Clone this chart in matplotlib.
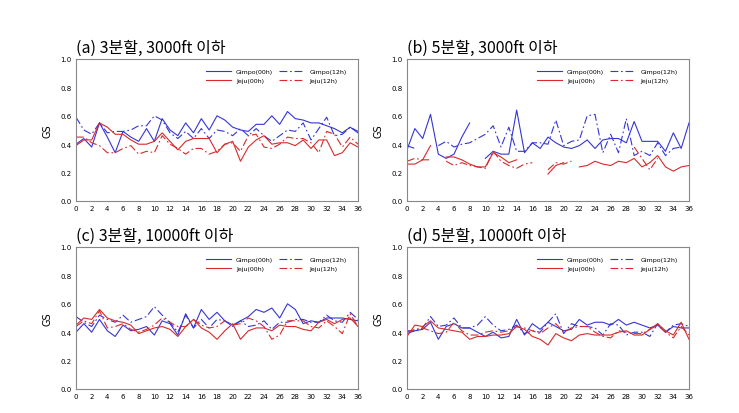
import numpy as np
import matplotlib
matplotlib.use("Agg")
import matplotlib.pyplot as plt

plt.rcParams['font.family'] = ['DejaVu Sans']
nan = np.nan

hours = list(range(0, 37))
labels = ["Gimpo(00h)", "Gimpo(12h)", "Jeju(00h)", "Jeju(12h)"]
titles = ["(a) 3분할, 3000ft 이하", "(b) 5분할, 3000ft 이하",
          "(c) 3분할, 10000ft 이하", "(d) 5분할, 10000ft 이하"]

# (a) 3-split, below 3000ft
a_gimpo00 = [0.40, 0.44, 0.38, 0.55, 0.45, 0.34, 0.49, 0.45, 0.42, 0.51, 0.42, 0.58, 0.50,
             0.46, 0.55, 0.48, 0.58, 0.50, 0.60, 0.57, 0.52, 0.50, 0.49, 0.54, 0.54, 0.60,
             0.54, 0.63, 0.58, 0.57, 0.55, 0.55, 0.53, 0.51, 0.48, 0.52, 0.48]
a_gimpo12 = [0.59, 0.50, 0.47, 0.55, 0.48, 0.49, 0.49, 0.50, 0.53, 0.53, 0.60, 0.57, 0.48,
             0.44, 0.49, 0.44, 0.51, 0.44, 0.50, 0.49, 0.46, 0.51, 0.46, 0.51, 0.46, 0.42,
             0.46, 0.50, 0.49, 0.55, 0.43, 0.51, 0.59, 0.46, 0.47, 0.52, 0.49]
a_jeju00 = [0.39, 0.43, 0.43, 0.55, 0.52, 0.47, 0.47, 0.43, 0.40, 0.40, 0.42, 0.48, 0.42,
            0.36, 0.42, 0.44, 0.44, 0.44, 0.34, 0.40, 0.42, 0.28, 0.38, 0.43, 0.46, 0.40,
            0.41, 0.41, 0.39, 0.43, 0.37, 0.43, 0.43, 0.32, 0.34, 0.41, 0.38]
a_jeju12 = [0.45, 0.45, 0.41, 0.39, 0.34, 0.34, 0.37, 0.39, 0.33, 0.35, 0.34, 0.46, 0.40,
            0.37, 0.33, 0.37, 0.37, 0.33, 0.35, 0.40, 0.41, 0.35, 0.46, 0.47, 0.38, 0.37,
            0.40, 0.45, 0.44, 0.44, 0.41, 0.34, 0.49, 0.47, 0.38, 0.45, 0.40]

# (b) 5-split, below 3000ft (gaps = missing)
b_gimpo00 = [0.36, 0.51, 0.44, 0.61, 0.33, 0.30, 0.33, 0.45, 0.55, nan, 0.30, 0.35, 0.33,
             0.33, 0.64, 0.34, 0.41, 0.37, 0.45, 0.41, 0.38, 0.37, 0.39, 0.43, 0.37, 0.43,
             0.44, 0.44, 0.41, 0.56, 0.42, 0.42, 0.42, 0.35, 0.48, 0.37, 0.55]
b_gimpo12 = [0.39, 0.37, nan, nan, 0.39, 0.42, 0.38, 0.40, 0.41, 0.44, 0.47, 0.53, 0.38,
             0.52, 0.35, 0.35, 0.41, 0.41, 0.40, 0.57, 0.39, 0.42, 0.43, 0.60, 0.61, 0.34,
             0.47, 0.34, 0.58, 0.32, 0.35, 0.32, 0.41, 0.32, 0.37, 0.38, nan]
b_jeju00 = [0.26, 0.26, 0.29, 0.39, nan, 0.31, 0.31, 0.29, 0.26, 0.24, 0.24, 0.34, 0.31,
            0.27, 0.29, nan, nan, nan, 0.19, 0.25, 0.27, nan, 0.24, 0.25, 0.28, 0.26,
            0.25, 0.28, 0.27, 0.30, 0.24, 0.27, 0.32, 0.24, 0.21, 0.24, 0.25]
b_jeju12 = [0.28, 0.30, 0.29, 0.29, nan, 0.28, 0.25, 0.27, 0.25, 0.24, 0.23, 0.35, 0.28,
            0.25, 0.23, 0.26, 0.27, nan, 0.22, 0.27, 0.26, 0.28, nan, nan, nan, nan,
            nan, nan, nan, 0.38, 0.30, 0.22, 0.30, nan, nan, nan, nan]

# (c) 3-split, below 10000ft
c_gimpo00 = [0.40, 0.46, 0.40, 0.49, 0.41, 0.37, 0.45, 0.41, 0.42, 0.44, 0.38, 0.48, 0.46,
             0.38, 0.53, 0.43, 0.56, 0.49, 0.54, 0.48, 0.45, 0.48, 0.51, 0.56, 0.54, 0.57,
             0.50, 0.60, 0.56, 0.46, 0.48, 0.47, 0.50, 0.50, 0.50, 0.49, 0.48]
c_gimpo12 = [0.51, 0.47, 0.44, 0.52, 0.49, 0.47, 0.52, 0.47, 0.49, 0.51, 0.58, 0.52, 0.47,
             0.40, 0.52, 0.43, 0.49, 0.43, 0.49, 0.48, 0.44, 0.48, 0.44, 0.45, 0.48, 0.42,
             0.47, 0.47, 0.49, 0.49, 0.47, 0.47, 0.52, 0.48, 0.47, 0.54, 0.49]
c_jeju00 = [0.45, 0.50, 0.49, 0.56, 0.50, 0.48, 0.47, 0.45, 0.39, 0.41, 0.43, 0.44, 0.42,
            0.37, 0.44, 0.49, 0.43, 0.40, 0.35, 0.41, 0.46, 0.35, 0.41, 0.43, 0.43, 0.41,
            0.45, 0.44, 0.44, 0.42, 0.41, 0.47, 0.49, 0.46, 0.49, 0.50, 0.44]
c_jeju12 = [0.44, 0.48, 0.46, 0.55, 0.43, 0.44, 0.46, 0.42, 0.40, 0.42, 0.45, 0.50, 0.47,
            0.44, 0.44, 0.49, 0.45, 0.43, 0.44, 0.48, 0.45, 0.46, 0.50, 0.48, 0.44, 0.35,
            0.38, 0.48, 0.48, 0.48, 0.44, 0.43, 0.48, 0.44, 0.39, 0.53, 0.44]

# (d) 5-split, below 10000ft
d_gimpo00 = [0.41, 0.41, 0.42, 0.47, 0.35, 0.44, 0.46, 0.43, 0.43, 0.40, 0.37, 0.40, 0.36,
             0.37, 0.49, 0.38, 0.46, 0.42, 0.47, 0.44, 0.41, 0.42, 0.49, 0.45, 0.47, 0.47,
             0.45, 0.49, 0.45, 0.47, 0.45, 0.43, 0.45, 0.40, 0.44, 0.43, 0.43]
d_gimpo12 = [0.39, 0.41, 0.43, 0.51, 0.44, 0.45, 0.50, 0.43, 0.43, 0.45, 0.51, 0.45, 0.41,
             0.42, 0.45, 0.39, 0.41, 0.40, 0.47, 0.53, 0.39, 0.46, 0.44, 0.44, 0.43, 0.38,
             0.46, 0.45, 0.38, 0.40, 0.40, 0.37, 0.46, 0.40, 0.45, 0.46, 0.44]
d_jeju00 = [0.37, 0.45, 0.44, 0.48, 0.43, 0.42, 0.41, 0.40, 0.35, 0.37, 0.37, 0.38, 0.38,
            0.39, 0.44, 0.42, 0.37, 0.35, 0.31, 0.39, 0.36, 0.34, 0.38, 0.39, 0.38, 0.38,
            0.38, 0.40, 0.41, 0.38, 0.38, 0.42, 0.46, 0.41, 0.38, 0.47, 0.35]
d_jeju12 = [0.40, 0.42, 0.43, 0.41, 0.39, 0.40, 0.47, 0.41, 0.38, 0.38, 0.40, 0.41, 0.40,
            0.41, 0.44, 0.43, 0.41, 0.39, 0.43, 0.46, 0.40, 0.43, 0.44, 0.44, 0.40, 0.37,
            0.36, 0.41, 0.40, 0.39, 0.39, 0.42, 0.45, 0.40, 0.36, 0.44, 0.38]

panels = [
    (a_gimpo00, a_gimpo12, a_jeju00, a_jeju12),
    (b_gimpo00, b_gimpo12, b_jeju00, b_jeju12),
    (c_gimpo00, c_gimpo12, c_jeju00, c_jeju12),
    (d_gimpo00, d_gimpo12, d_jeju00, d_jeju12),
]

blue = "#3535d8"
red = "#d82a2a"
dashdot = (0, (7, 2.5, 1.5, 2.5))
styles = [(blue, "-"), (blue, dashdot), (red, "-"), (red, dashdot)]

fig = plt.figure(figsize=(7.39, 4.14), dpi=100)

lefts = [76 / 739, 407 / 739]
bottoms = [1 - 202 / 414, 1 - 390 / 414]
w = 282 / 739
h = 142 / 414

for i, series in enumerate(panels):
    ax = fig.add_axes([lefts[i % 2], bottoms[i // 2], w, h])
    lines = []
    for data, lab, (col, ls) in zip(series, labels, styles):
        ln, = ax.plot(hours, data, color=col, linestyle=ls, linewidth=0.8, label=lab)
        lines.append(ln)
    ax.set_xlim(0, 36)
    ax.set_ylim(0, 1.0)
    ax.set_xticks(range(0, 37, 2))
    ax.set_yticks(np.arange(0, 1.01, 0.2))
    ax.yaxis.set_major_formatter(plt.FormatStrFormatter('%.1f'))
    ax.tick_params(labelsize=5, length=0, pad=3)
    for s in ax.spines.values():
        s.set_color("#888888")
        s.set_linewidth(0.8)
    ax.set_ylabel("GS", fontsize=7, labelpad=6)
    ax.text(0.0, 1.025, titles[i], transform=ax.transAxes, fontsize=11.5,
            family=['Noto Sans CJK KR', 'DejaVu Sans'], va='bottom', ha='left')
    # legend rows: Gimpo on top, Jeju below (matplotlib fills columns first)
    order = [0, 2, 1, 3]
    ax.legend([lines[k] for k in order], [labels[k] for k in order],
              loc='upper right', ncol=2, frameon=False, fontsize=4.5,
              handlelength=4, columnspacing=1.0, labelspacing=0.6,
              bbox_to_anchor=(0.98, 0.97))

fig.savefig("out.png", dpi=100)
